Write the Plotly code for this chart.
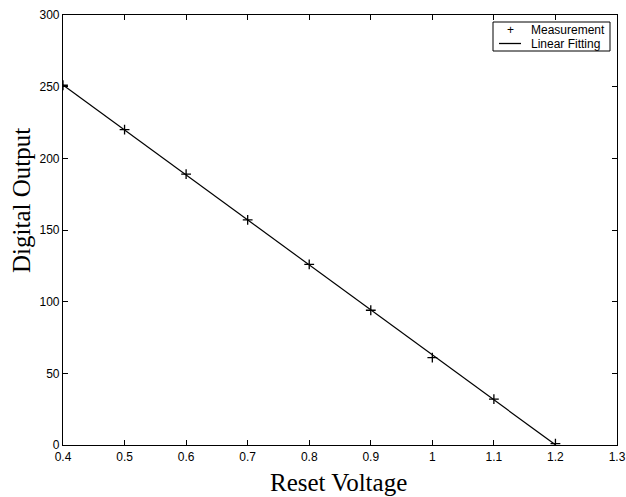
import numpy as np
import plotly.graph_objects as go

reset_voltage = [0.4, 0.5, 0.6, 0.7, 0.8, 0.9, 1.0, 1.1, 1.2]
digital_output = [251, 220, 189, 157, 126, 94, 61, 32, 1]

x_ticks = [0.4, 0.5, 0.6, 0.7, 0.8, 0.9, 1.0, 1.1, 1.2, 1.3]
y_ticks = [0, 50, 100, 150, 200, 250, 300]

slope, intercept = np.polyfit(reset_voltage, digital_output, 1)
fit_x = [reset_voltage[0], reset_voltage[-1]]
fit_y = [slope * v + intercept for v in fit_x]

W, H = 626, 497
PL, PR, PT, PB = 63, 617, 15, 445      # plot area in page pixels
pw, ph = PR - PL, PB - PT


def px(x):
    return (x - PL) / pw


def py(y):
    return (PB - y) / ph


fig = go.Figure()
fig.add_trace(go.Scatter(
    x=reset_voltage, y=digital_output, mode="markers", name="Measurement",
    marker=dict(symbol="cross-thin", size=7, color="black",
                line=dict(color="black", width=1.3)),
))
fig.add_trace(go.Scatter(
    x=fit_x, y=fit_y, mode="lines", name="Linear Fitting",
    line=dict(color="black", width=1.2),
))

axis_common = dict(
    showline=True, linecolor="black", linewidth=1.2, mirror="ticks",
    ticks="inside", ticklen=5, tickcolor="black", showgrid=False, zeroline=False,
    automargin=False, ticklabeloverflow="allow",
    tickfont=dict(family="Liberation Sans, Arial, sans-serif", size=12, color="black"),
)

fig.update_xaxes(range=[0.4, 1.3], tickvals=x_ticks, **axis_common)
fig.update_yaxes(range=[0, 300], tickvals=y_ticks, **axis_common)

title_font = dict(family="Liberation Serif, Times New Roman, serif", size=25, color="black")
fig.add_annotation(
    text="Reset Voltage", xref="paper", yref="paper",
    x=px(338), y=py(482),
    xanchor="center", yanchor="middle", showarrow=False, font=title_font,
)
fig.add_annotation(
    text="Digital Output", xref="paper", yref="paper",
    x=px(21), y=py(201), textangle=-90,
    xanchor="center", yanchor="middle", showarrow=False, font=title_font,
)

# compact legend box (drawn to match the reference's tight layout)
legend_font = dict(family="Liberation Sans, Arial, sans-serif", size=12, color="black")
fig.add_shape(type="rect", xref="paper", yref="paper",
              x0=px(493), x1=px(610), y0=py(51), y1=py(22),
              line=dict(color="black", width=1), fillcolor="white", layer="above")
fig.add_annotation(text="+", xref="paper", yref="paper", x=px(510), y=py(30.5),
                   xanchor="center", yanchor="middle", showarrow=False,
                   font=dict(family="Liberation Sans, Arial, sans-serif", size=12, color="black"))
fig.add_shape(type="line", xref="paper", yref="paper",
              x0=px(499), x1=px(521), y0=py(43.5), y1=py(43.5),
              line=dict(color="black", width=1.3), layer="above")
fig.add_annotation(text="Measurement", xref="paper", yref="paper", x=px(529), y=py(30.5),
                   xanchor="left", yanchor="middle", showarrow=False, font=legend_font)
fig.add_annotation(text="Linear Fitting", xref="paper", yref="paper", x=px(529), y=py(44),
                   xanchor="left", yanchor="middle", showarrow=False, font=legend_font)

fig.update_layout(
    width=W, height=H,
    margin=dict(l=PL, r=W - PR, t=PT, b=H - PB, autoexpand=False),
    paper_bgcolor="white", plot_bgcolor="white",
    showlegend=False,
)

fig.write_html(
    "out.html",
    config={"displayModeBar": False},
    post_script="document.body.style.margin='0';document.body.style.overflow='hidden';",
)
